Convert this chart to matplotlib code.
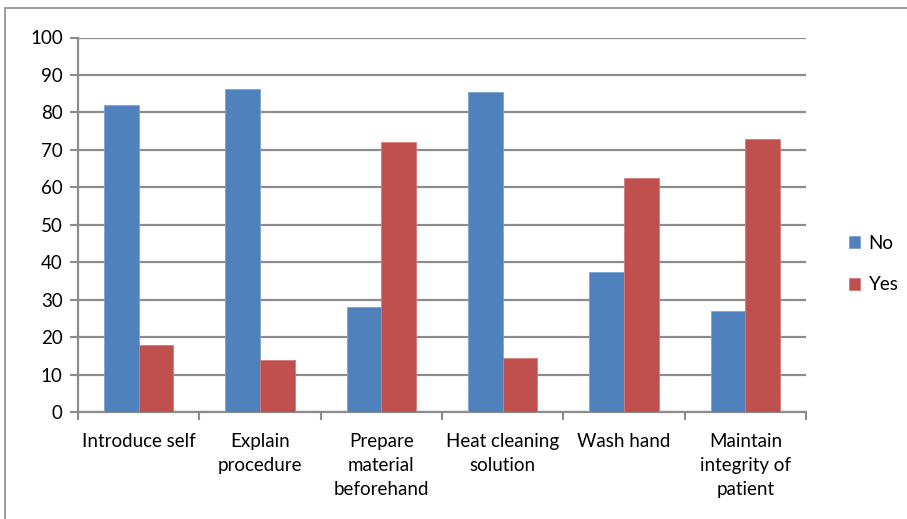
import matplotlib.pyplot as plt
import numpy as np
from matplotlib.patches import Rectangle

categories = ["Introduce self", "Explain\nprocedure", "Prepare\nmaterial\nbeforehand",
              "Heat cleaning\nsolution", "Wash hand", "Maintain\nintegrity of\npatient"]
no_vals = [82.1, 86.2, 28.0, 85.5, 37.5, 27.0]
yes_vals = [17.9, 13.8, 72.0, 14.5, 62.5, 73.0]
yticks = list(range(0, 101, 10))

plt.rcParams["font.family"] = ["Lato", "DejaVu Sans"]
fs = 13.5

W, H = 907, 519
fig = plt.figure(figsize=(W / 100, H / 100), dpi=100)

# outer chart border (left and top visible, rest cut off)
fig.patches.append(Rectangle((5 / W, -0.1), 1.2, 1 - 8 / H + 0.1, transform=fig.transFigure,
                             fill=False, edgecolor="#8c8c8c", linewidth=1.2))

ax = fig.add_axes([78 / W, 1 - 412 / H, (806 - 78) / W, (412 - 37.5) / H])

x = np.arange(len(categories))
bw = 0.285
ax.bar(x - bw / 2, no_vals, bw, color="#4f81bd", edgecolor="#7ea3d0", linewidth=0.6, label="No", zorder=3)
ax.bar(x + bw / 2, yes_vals, bw, color="#c0504d", edgecolor="#d07d7b", linewidth=0.6, label="Yes", zorder=3)

ax.set_xlim(-0.5, len(categories) - 0.5)
ax.set_ylim(0, 100)
ax.set_yticks(yticks)
ax.set_yticklabels([str(v) for v in yticks], fontsize=fs)
ax.yaxis.grid(True, color="#8c8c8c", linewidth=1.6, zorder=0)

ax.set_xticks(np.arange(len(categories) + 1) - 0.5)
ax.set_xticklabels([])
ax.set_xticks(x, minor=True)
ax.set_xticklabels(categories, minor=True, fontsize=fs, linespacing=1.5, va="top")
ax.tick_params(axis="x", which="minor", length=0, pad=15)
ax.tick_params(axis="x", which="major", length=6, width=1.5, color="#8c8c8c")
ax.tick_params(axis="y", length=6, width=1.5, color="#8c8c8c", pad=5)

for side in ["top", "right"]:
    ax.spines[side].set_visible(False)
for side in ["left", "bottom"]:
    ax.spines[side].set_color("#8c8c8c")
    ax.spines[side].set_linewidth(1.6)

ax.legend(loc="center left", bbox_to_anchor=(832 / W, 1 - 264 / H), bbox_transform=fig.transFigure,
          frameon=False, fontsize=fs, handlelength=0.6, handleheight=0.6, handletextpad=0.45,
          labelspacing=1.3)

fig.savefig("out.png", dpi=100)
